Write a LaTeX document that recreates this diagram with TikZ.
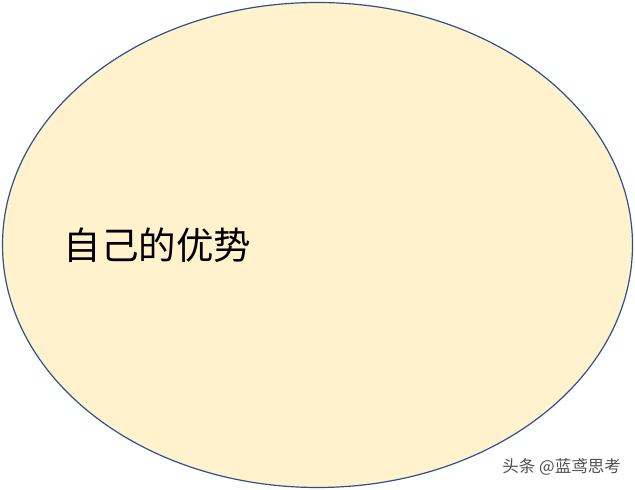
\documentclass[tikz,border=0pt]{standalone}
\usepackage{fontspec}
\usepackage{tikz}
\usetikzlibrary{shapes.geometric}
\newfontfamily\cjk{Noto Sans CJK SC}
\definecolor{ovalfill}{HTML}{FFF2CC}
\definecolor{ovalline}{HTML}{2F528F}
\definecolor{markgray}{HTML}{505050}

\begin{document}
\begin{tikzpicture}[x=1pt,y=1pt]
   \useasboundingbox[fill=white] (0,0) rectangle (635,490);

   \node[ellipse, style={
      fill = ovalfill,
      draw = ovalline,
      line width = 1.2pt,
      minimum width = 630pt,
      minimum height = 485pt,
      inner sep = 0pt
   }] (oval) at (317.5,245) {};

   \node[style={
      font = \cjk\fontsize{37.5}{42}\selectfont,
      text = black,
      inner sep = 0pt
   }] (label) at (157.5,245) {自己的优势};

   \node[anchor=east, style={
      font = \cjk\fontsize{16.5}{19}\selectfont,
      text = markgray,
      inner sep = 0pt
   }] (mark) at (621,23) {头条 @蓝鸢思考};

\end{tikzpicture}
\end{document}
